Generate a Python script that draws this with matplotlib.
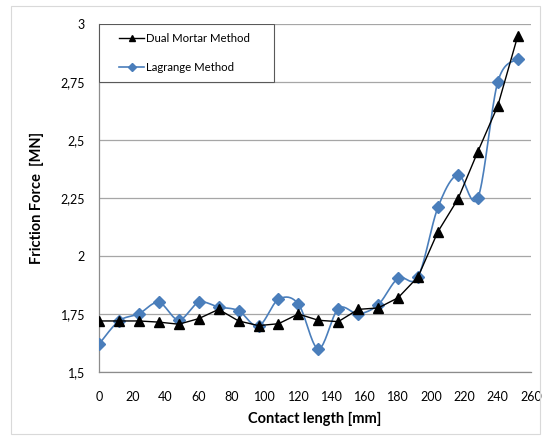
import numpy as np
import matplotlib
matplotlib.use("Agg")
import matplotlib.pyplot as plt
from matplotlib.patches import Rectangle
from matplotlib.lines import Line2D

plt.rcParams['font.family'] = ['Lato', 'DejaVu Sans']

contact_mm = [0, 12, 24, 36, 48, 60, 72, 84, 96, 108, 120, 132, 144, 156, 168,
              180, 192, 204, 216, 228, 240, 252]
dual_mortar = [1.72, 1.72, 1.72, 1.715, 1.706, 1.73, 1.77, 1.72, 1.70, 1.708, 1.75,
               1.723, 1.717, 1.77, 1.776, 1.82, 1.91, 2.105, 2.245, 2.45, 2.647, 2.948]
lagrange = [1.62, 1.72, 1.751, 1.80, 1.724, 1.80, 1.78, 1.764, 1.698, 1.813, 1.793,
            1.60, 1.773, 1.751, 1.79, 1.904, 1.91, 2.21, 2.35, 2.25, 2.75, 2.85]
xticks = list(range(0, 261, 20))
yticks = [1.5, 1.75, 2.0, 2.25, 2.5, 2.75, 3.0]
ytick_labels = ['1,5', '1,75', '2', '2,25', '2,5', '2,75', '3']

BLUE = '#4a7ebb'


def smooth(xs, ys, n=20):
    # Catmull-Rom style smoothing (like Excel smoothed lines) through data points
    xs = np.asarray(xs, float)
    ys = np.asarray(ys, float)
    P = np.column_stack([xs, ys])
    out = []
    for i in range(len(P) - 1):
        p0 = P[i - 1] if i > 0 else P[i]
        p1 = P[i]
        p2 = P[i + 1]
        p3 = P[i + 2] if i + 2 < len(P) else P[i + 1]
        c1 = p1 + (p2 - p0) / 6.0
        c2 = p2 - (p3 - p1) / 6.0
        t = np.linspace(0, 1, n, endpoint=(i == len(P) - 2))[:, None]
        seg = ((1 - t) ** 3) * p1 + 3 * ((1 - t) ** 2) * t * c1 + 3 * (1 - t) * t ** 2 * c2 + t ** 3 * p2
        out.append(seg)
    out = np.vstack(out)
    return out[:, 0], out[:, 1]


fig = plt.figure(figsize=(5.46, 4.42), dpi=100)
AX_L, AX_R, AX_T, AX_B = 99, 531, 24, 372
ax = fig.add_axes([AX_L / 546, 1 - AX_B / 442, (AX_R - AX_L) / 546, (AX_B - AX_T) / 442])

# outer chart border
fig.patches.append(Rectangle((11 / 546, 1 - 434 / 442), (540 - 11) / 546, (434 - 6) / 442,
                             transform=fig.transFigure, fill=False, edgecolor='#d9d9d9', lw=0.8))

sx, sy = smooth(contact_mm, lagrange)
ax.plot(sx, sy, color=BLUE, lw=1.2, zorder=3)
ax.plot(contact_mm, lagrange, linestyle='none', marker='D', markersize=6.5,
        color=BLUE, zorder=3)
ax.plot(contact_mm, dual_mortar, color='black', lw=1.0, marker='^', markersize=6.5, zorder=4)

ax.set_xlim(0, 260)
ax.set_ylim(1.5, 3.0)
ax.set_xticks(xticks)
ax.set_xticklabels([str(v) for v in xticks])
ax.set_yticks(yticks)
ax.set_yticklabels(ytick_labels)
ax.tick_params(length=0, labelsize=9, colors='black')
ax.tick_params(axis='y', pad=10)
ax.tick_params(axis='x', pad=14)
ax.grid(axis='y', color='#a6a6a6', lw=0.9)
ax.set_axisbelow(True)
for s in ['top', 'right']:
    ax.spines[s].set_visible(False)
for s in ['left', 'bottom']:
    ax.spines[s].set_color('#8c8c8c')
    ax.spines[s].set_linewidth(0.9)

ax.set_xlabel('Contact length [mm]', fontsize=10.5, fontweight='bold', labelpad=6)
ax.set_ylabel('Friction Force  [MN]', fontsize=10.5, fontweight='bold', labelpad=12)

# legend frame
W = AX_R - AX_L
H = AX_B - AX_T
ax.add_patch(Rectangle((0, 1 - 58 / H), 175 / W, 58 / H, transform=ax.transAxes,
                       fill=True, facecolor='white', edgecolor='#595959', lw=0.8, zorder=5))
handles = [Line2D([], [], color='black', lw=1.0, marker='^', markersize=5),
           Line2D([], [], color=BLUE, lw=1.2, marker='D', markersize=4.5)]
leg = ax.legend(handles, ['Dual Mortar Method', 'Lagrange Method'],
                loc='upper left', bbox_to_anchor=(20 / W, 1 - 9 / H), fontsize=8.2,
                frameon=False, borderaxespad=0, borderpad=0, handlelength=2.2,
                handletextpad=0.2, labelspacing=1.55)
leg.set_zorder(6)

fig.savefig('out.png', dpi=100)
